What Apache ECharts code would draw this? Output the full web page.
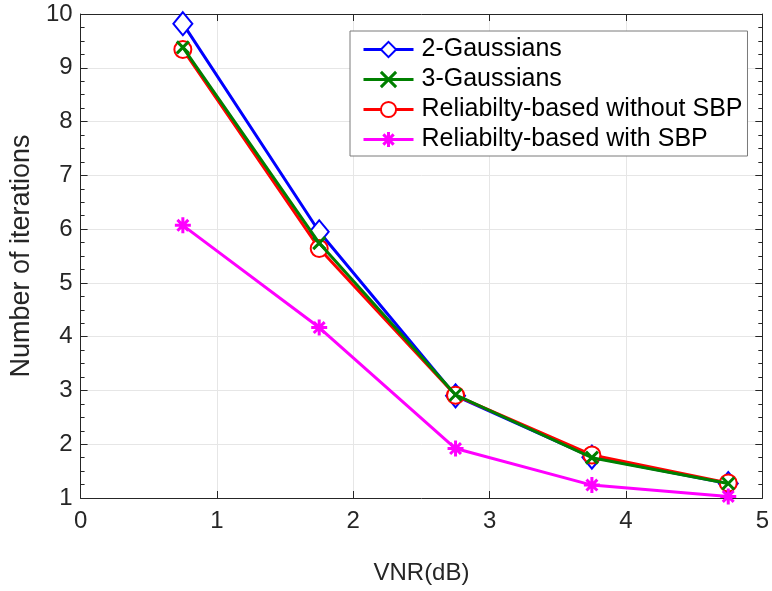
<!DOCTYPE html>
<html>
<head>
<meta charset="utf-8">
<script src="https://cdn.jsdelivr.net/npm/echarts@6/dist/echarts.min.js"></script>
<style>
html,body{margin:0;padding:0;background:#fff;}
#c{width:772px;height:591px;}
</style>
</head>
<body>
<div id="c"></div>
<script>
// ---- data ----
var vnr = [0.75, 1.75, 2.75, 3.75, 4.75];
var gauss2 = [9.82, 5.95, 2.90, 1.76, 1.27];
var gauss3 = [9.38, 5.74, 2.92, 1.75, 1.27];
var relNoSBP = [9.34, 5.64, 2.91, 1.80, 1.28];
var relSBP = [6.07, 4.17, 1.92, 1.24, 1.03];
var seriesNames = ['2-Gaussians', '3-Gaussians', 'Reliabilty-based without SBP', 'Reliabilty-based with SBP'];
var xTicks = [0, 1, 2, 3, 4, 5];
var yTicks = [1, 2, 3, 4, 5, 6, 7, 8, 9, 10];

function pairs(ys){ return vnr.map(function(x,i){ return [x, ys[i]]; }); }

var font = 'Liberation Sans, Arial, sans-serif';
var txt = '#262626';
var X_PATH = 'path://M0,0L10,10M10,0L0,10';
var STAR_PATH = 'path://M5,0L5,10M0,5L10,5M1.6,1.6L8.4,8.4M8.4,1.6L1.6,8.4';

var chart = echarts.init(document.getElementById('c'), null, {renderer:'canvas'});
var option = {
  animation: false,
  backgroundColor: '#fff',
  grid: {left: 80, right: 9, top: 14, bottom: 93, containLabel: false},
  legend: {
    orient: 'vertical',
    left: 350, top: 31,
    data: seriesNames,
    itemWidth: 50, itemHeight: 19, itemGap: 5,
    padding: [6, 5, 4, 12],
    backgroundColor: '#fff',
    borderColor: '#7a7a7a', borderWidth: 1,
    lineStyle: {width: 3},
    itemStyle: {borderWidth: 3},
    textStyle: {fontFamily: font, fontSize: 25, lineHeight: 25, color: '#000', padding: [0,0,0,3]}
  },
  xAxis: [{
    type: 'value', min: xTicks[0], max: xTicks[xTicks.length-1], interval: 1,
    name: 'VNR(dB)', nameLocation: 'middle', nameGap: 63,
    nameTextStyle: {fontFamily: font, fontSize: 24, color: txt},
    axisLine: {show: true, onZero: false, lineStyle: {color: txt, width: 1}},
    axisTick: {show: true, inside: true, length: 7, lineStyle: {color: txt}},
    axisLabel: {fontFamily: font, fontSize: 24, color: txt, margin: 11},
    splitLine: {show: true, lineStyle: {color: '#e6e6e6', width: 1}}
  }, {
    type: 'value', position: 'top', min: 0, max: 5, interval: 1,
    axisLine: {show: true, onZero: false, lineStyle: {color: txt, width: 1}},
    axisTick: {show: true, inside: true, length: 7, lineStyle: {color: txt}},
    axisLabel: {show: false}, splitLine: {show: false}
  }],
  yAxis: [{
    type: 'value', min: yTicks[0], max: yTicks[yTicks.length-1], interval: 1,
    name: 'Number of iterations', nameLocation: 'middle', nameGap: 45,
    nameTextStyle: {fontFamily: font, fontSize: 27, color: txt},
    axisLine: {show: true, onZero: false, lineStyle: {color: txt, width: 1}},
    axisTick: {show: true, inside: true, length: 7, lineStyle: {color: txt}},
    minorTick: {show: true, splitNumber: 4, length: 4, lineStyle: {color: txt}},
    axisLabel: {fontFamily: font, fontSize: 24, color: txt, margin: 8},
    splitLine: {show: true, lineStyle: {color: '#e6e6e6', width: 1}}
  }, {
    type: 'value', position: 'right', min: 1, max: 10, interval: 1,
    axisLine: {show: true, onZero: false, lineStyle: {color: txt, width: 1}},
    axisTick: {show: true, inside: true, length: 7, lineStyle: {color: txt}},
    minorTick: {show: true, splitNumber: 4, length: 4, lineStyle: {color: txt}},
    axisLabel: {show: false}, splitLine: {show: false}
  }],
  series: [
    {name: seriesNames[0], type: 'line', data: pairs(gauss2), z: 2,
     symbol: 'emptyDiamond', symbolSize: [19, 23],
     lineStyle: {color: '#0000ff', width: 3},
     itemStyle: {color: '#0000ff', borderColor: '#0000ff', borderWidth: 3}},
    {name: seriesNames[1], type: 'line', data: pairs(gauss3), z: 4,
     symbol: X_PATH, symbolSize: 12,
     lineStyle: {color: '#008000', width: 3},
     itemStyle: {color: '#008000', borderColor: '#008000', borderWidth: 3}},
    {name: seriesNames[2], type: 'line', data: pairs(relNoSBP), z: 3,
     symbol: 'emptyCircle', symbolSize: 17,
     lineStyle: {color: '#ff0000', width: 3},
     itemStyle: {color: '#ff0000', borderColor: '#ff0000', borderWidth: 3}},
    {name: seriesNames[3], type: 'line', data: pairs(relSBP), z: 5,
     symbol: STAR_PATH, symbolSize: 16,
     lineStyle: {color: '#ff00ff', width: 3},
     itemStyle: {color: '#ff00ff', borderColor: '#ff00ff', borderWidth: 3}}
  ]
};
chart.setOption(option);
</script>
</body>
</html>
